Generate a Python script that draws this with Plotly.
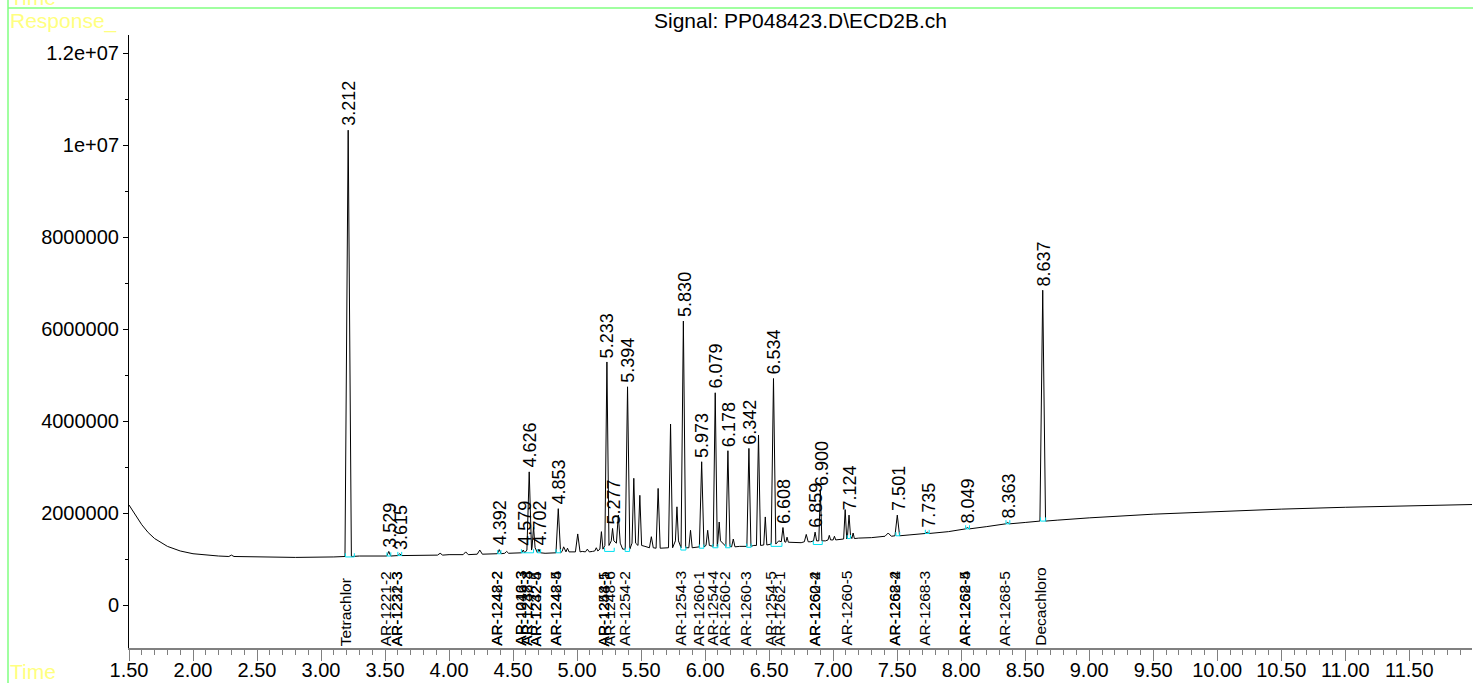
import plotly.graph_objects as go

# ---------------- data (response values in millions) ----------------
SCALE = 1e6

# baseline points between peaks (time, response)
base_time = [1.50, 1.55, 1.60, 1.65, 1.70, 1.80, 1.90, 2.00, 2.10, 2.20, 2.50, 2.80, 3.10, 3.30,
             3.45, 3.70, 3.80, 4.00, 4.32, 4.52, 4.75, 4.96, 5.04, 5.12, 5.356, 5.53, 5.68, 5.93,
             6.27, 6.38, 6.575, 6.70, 6.75, 6.825, 6.94, 7.05, 7.20, 7.30, 7.60, 7.90, 8.20, 8.50,
             8.75, 9.00, 9.50, 10.00, 10.50, 11.00, 11.50, 11.99]
base_resp = [2.18, 1.95, 1.75, 1.58, 1.45, 1.28, 1.18, 1.12, 1.09, 1.07, 1.05, 1.04, 1.05, 1.07,
             1.07, 1.08, 1.08, 1.10, 1.12, 1.13, 1.13, 1.16, 1.17, 1.17, 1.22, 1.28, 1.24, 1.27,
             1.28, 1.30, 1.40, 1.37, 1.36, 1.38, 1.40, 1.43, 1.46, 1.47, 1.53, 1.60, 1.71, 1.80,
             1.85, 1.90, 1.98, 2.04, 2.09, 2.13, 2.16, 2.19]

# peaks: retention time, apex, foot level, half base width (min)
peak_rt = [2.300, 3.212, 3.529, 3.615, 3.930, 4.130, 4.240, 4.392, 4.450, 4.579, 4.626, 4.660,
           4.702, 4.853, 4.895, 4.925, 5.005, 5.080, 5.150, 5.190, 5.233, 5.277, 5.322, 5.394,
           5.443, 5.490, 5.580, 5.633, 5.730, 5.780, 5.830, 5.886, 5.973, 6.020, 6.079, 6.110,
           6.178, 6.220, 6.342, 6.417, 6.470, 6.534, 6.608, 6.640, 6.790, 6.859, 6.900, 6.970,
           7.010, 7.094, 7.124, 7.156, 7.430, 7.501, 7.735, 8.049, 8.363, 8.637]
peak_top = [1.09, 10.33, 1.17, 1.12, 1.13, 1.16, 1.20, 1.21, 1.17, 1.20, 2.90, 1.70,
            1.22, 2.10, 1.27, 1.24, 1.55, 1.22, 1.25, 1.60, 5.29, 1.67, 1.96, 4.75,
            2.76, 2.39, 1.49, 2.54, 3.94, 2.14, 6.18, 1.63, 3.12, 1.63, 4.62, 1.81,
            3.36, 1.44, 3.41, 3.70, 1.92, 4.93, 1.69, 1.48, 1.54, 1.59, 2.50, 1.52,
            1.50, 2.08, 1.96, 1.57, 1.57, 1.96, 1.59, 1.69, 1.80, 6.85]
peak_base = [1.06, 1.06, 1.07, 1.08, 1.09, 1.10, 1.11, 1.12, 1.13, 1.14, 1.20, 1.25,
             1.14, 1.14, 1.17, 1.16, 1.16, 1.16, 1.18, 1.22, 1.30, 1.40, 1.35, 1.22,
             1.35, 1.30, 1.25, 1.24, 1.25, 1.40, 1.25, 1.25, 1.27, 1.30, 1.28, 1.40,
             1.28, 1.27, 1.28, 1.30, 1.31, 1.33, 1.38, 1.37, 1.38, 1.40, 1.40, 1.42,
             1.42, 1.44, 1.50, 1.45, 1.50, 1.51, 1.56, 1.66, 1.77, 1.83]
peak_hw = [0.020, 0.025, 0.015, 0.015, 0.020, 0.020, 0.020, 0.015, 0.015, 0.012, 0.018, 0.012,
           0.012, 0.018, 0.012, 0.012, 0.018, 0.015, 0.012, 0.012, 0.016, 0.010, 0.015, 0.018,
           0.014, 0.014, 0.015, 0.016, 0.016, 0.012, 0.018, 0.013, 0.018, 0.013, 0.016, 0.010,
           0.016, 0.013, 0.016, 0.016, 0.012, 0.018, 0.013, 0.010, 0.015, 0.012, 0.012, 0.010,
           0.010, 0.012, 0.012, 0.010, 0.025, 0.018, 0.015, 0.015, 0.015, 0.022]

# retention-time labels above peaks
rt_labels = [3.212, 3.529, 3.615, 4.392, 4.579, 4.626, 4.702, 4.853, 5.233, 5.277, 5.394,
             5.830, 5.973, 6.079, 6.178, 6.342, 6.534, 6.608, 6.859, 6.900, 7.124, 7.501,
             7.735, 8.049, 8.363, 8.637]

# compound names along the bottom
name_time = [3.212, 3.529, 3.615, 3.615, 4.392, 4.392, 4.579, 4.579, 4.626, 4.626, 4.702, 4.702,
             4.853, 4.853, 5.233, 5.233, 5.277, 5.394, 5.830, 5.973, 6.079, 6.178, 6.342, 6.534,
             6.608, 6.880, 6.880, 7.124, 7.501, 7.501, 7.735, 8.049, 8.049, 8.363, 8.637]
name_text = ["Tetrachlor", "AR-1221-2", "AR-1232-3", "AR-1221-3", "AR-1248-2", "AR-1242-2",
             "AR-1016-3", "AR-1242-3", "AR-1232-4", "AR-1248-3", "AR-1242-4", "AR-1232-5",
             "AR-1248-4", "AR-1242-5", "AR-1254-1", "AR-1248-5", "AR-1248-6", "AR-1254-2",
             "AR-1254-3", "AR-1260-1", "AR-1254-4", "AR-1260-2", "AR-1260-3", "AR-1254-5",
             "AR-1262-1", "AR-1260-4", "AR-1262-2", "AR-1260-5", "AR-1268-2", "AR-1262-4",
             "AR-1268-3", "AR-1268-4", "AR-1262-5", "AR-1268-5", "Decachloro"]

# integration baseline marks (cyan)
seg_start = [3.190, 3.515, 3.600, 4.380, 4.565, 4.690, 4.835, 5.215, 5.375, 5.810, 5.955,
             6.060, 6.160, 6.325, 6.515, 6.845, 7.110, 7.490, 7.720, 8.035, 8.350, 8.620]
seg_end = [3.260, 3.545, 3.630, 4.405, 4.660, 4.715, 4.870, 5.290, 5.410, 5.850, 5.990,
           6.100, 6.195, 6.360, 6.600, 6.915, 7.135, 7.520, 7.750, 8.065, 8.380, 8.660]
seg_level = [1.05, 1.07, 1.08, 1.12, 1.14, 1.14, 1.14, 1.17, 1.17, 1.20, 1.24,
             1.25, 1.25, 1.26, 1.28, 1.32, 1.45, 1.51, 1.56, 1.66, 1.77, 1.83]

x_ticks = [1.5 + 0.5 * i for i in range(21)]
y_ticks = [0, 2e6, 4e6, 6e6, 8e6, 1e7, 1.2e7]
y_tick_text = ["0", "2000000", "4000000", "6000000", "8000000", "1e+07", "1.2e+07"]

# ---------------- build ----------------
pts = list(zip(base_time, base_resp))
for rt, top, b, hw in zip(peak_rt, peak_top, peak_base, peak_hw):
    pts += [(rt - hw, b), (rt, top), (rt + hw, b)]
pts.sort(key=lambda p: p[0])
trace_t = [p[0] for p in pts]
trace_v = [p[1] * SCALE for p in pts]

TICK = 0.08
seg_x, seg_y = [], []
for a, e, lv in zip(seg_start, seg_end, seg_level):
    seg_x += [a, a, e, e, None]
    seg_y += [(lv + TICK) * SCALE, lv * SCALE, lv * SCALE, (lv + TICK) * SCALE, None]

W, H = 1473, 683
ML, MR, MT, MB = 129, 1, 35, 35
PW, PH = W - ML - MR, H - MT - MB
X_RANGE = [1.5, 11.99]
Y_RANGE = [-0.93e6, 12.4e6]
FONT = "Liberation Sans, Arial, sans-serif"


def px(x):
    return (x - ML) / PW


def py(y):
    return (H - MB - y) / PH


fig = go.Figure()
fig.add_trace(go.Scatter(x=trace_t, y=trace_v, mode="lines",
                         line=dict(color="black", width=1), hoverinfo="skip"))
fig.add_trace(go.Scatter(x=seg_x, y=seg_y, mode="lines",
                         line=dict(color="#00e0f0", width=1), hoverinfo="skip"))

ann = []
for rt in rt_labels:
    i = peak_rt.index(rt)
    ann.append(dict(x=rt, y=peak_top[i] * SCALE, xref="x", yref="y", text=f"{rt:.3f}",
                    textangle=-90, showarrow=False, xanchor="center", yanchor="bottom",
                    yshift=2, xshift=1, font=dict(family=FONT, size=18, color="black")))
for t, nm in zip(name_time, name_text):
    ann.append(dict(x=t, y=Y_RANGE[0], xref="x", yref="y", text=nm, textangle=-90,
                    showarrow=False, xanchor="center", yanchor="bottom", xshift=-3, yshift=0,
                    font=dict(family=FONT, size=15.5, color="black")))

ann.append(dict(x=0.5, y=py(21), xref="paper", yref="paper", text="Signal: PP048423.D\\ECD2B.ch",
                showarrow=False, xanchor="center", yanchor="middle",
                font=dict(family=FONT, size=21, color="black")))
YEL = "#ffff80"
ann.append(dict(x=px(8), y=py(21), xref="paper", yref="paper", text="Response_", showarrow=False,
                xanchor="left", yanchor="middle", font=dict(family=FONT, size=21, color=YEL)))
ann.append(dict(x=px(8), y=py(671), xref="paper", yref="paper", text="Time", showarrow=False,
                xanchor="left", yanchor="middle", font=dict(family=FONT, size=21, color=YEL)))
ann.append(dict(x=px(8), y=py(-3), xref="paper", yref="paper", text="Time", showarrow=False,
                xanchor="left", yanchor="middle", font=dict(family=FONT, size=21, color=YEL)))

GREEN = "#80ff80"
shapes = [
    dict(type="line", xref="paper", yref="paper", x0=px(8), x1=px(8), y0=py(H + 5), y1=py(-5),
         line=dict(color=GREEN, width=1.5)),
    dict(type="line", xref="paper", yref="paper", x0=px(8), x1=px(W + 5), y0=py(8), y1=py(8),
         line=dict(color=GREEN, width=1.5)),
]

fig.update_layout(
    width=W, height=H, autosize=False,
    margin=dict(l=ML, r=MR, t=MT, b=MB, pad=0, autoexpand=False),
    paper_bgcolor="white", plot_bgcolor="white",
    showlegend=False,
    annotations=ann, shapes=shapes,
    font=dict(family=FONT, color="black"),
    xaxis=dict(range=X_RANGE, tickvals=x_ticks, ticktext=[f"{v:.2f}" for v in x_ticks],
               ticks="outside", ticklen=11, tickwidth=1, tickcolor="#808080",
               showline=True, linecolor="#808080", linewidth=2, automargin=False,
               ticklabelstandoff=-8,
               showgrid=False, zeroline=False,
               tickfont=dict(family=FONT, size=20, color="black"),
               minor=dict(dtick=0.1, tick0=1.5, ticks="outside", ticklen=5, tickcolor="#808080",
                          showgrid=False)),
    yaxis=dict(range=Y_RANGE, tickvals=y_ticks, ticktext=y_tick_text,
               ticks="outside", ticklen=5, tickcolor="black", automargin=False,
               showline=True, linecolor="black", linewidth=1,
               showgrid=False, zeroline=False,
               tickfont=dict(family=FONT, size=20, color="black"),
               minor=dict(dtick=1e6, tick0=0, ticks="outside", ticklen=3, tickcolor="black",
                          showgrid=False)),
)

fig.write_html("out.html", config={"displayModeBar": False},
               post_script="document.body.style.margin='0';document.body.style.overflow='hidden';")
